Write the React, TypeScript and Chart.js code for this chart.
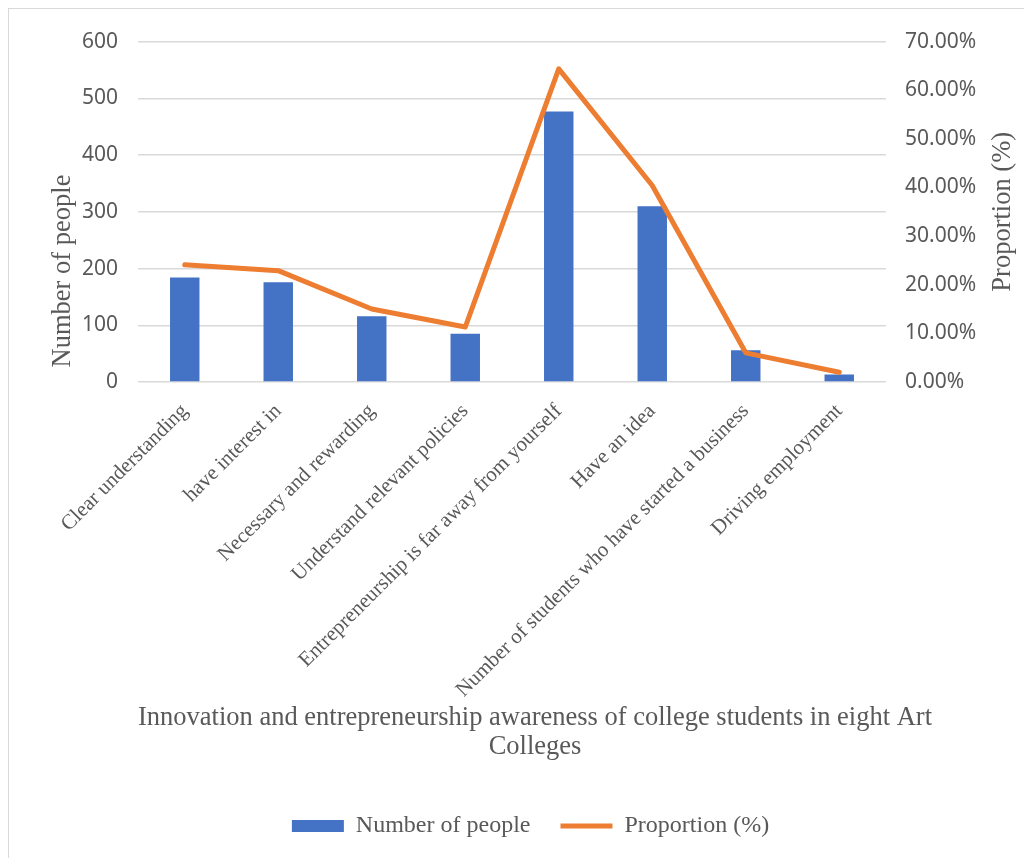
import React, { useEffect, useRef } from "react";
import { Chart, registerables } from "chart.js";

Chart.register(...registerables);

const categories = [
  "Clear understanding",
  "have interest in",
  "Necessary and rewarding",
  "Understand relevant policies",
  "Entrepreneurship is far away from yourself",
  "Have an idea",
  "Number of students who have started a business",
  "Driving employment",
];
const peopleCounts = [184, 176, 116, 85, 477, 310, 56, 13];
const proportions = [0.241, 0.229, 0.15, 0.113, 0.644, 0.404, 0.06, 0.02];

const leftTitle = "Number of people";
const rightTitle = "Proportion (%)";
const bottomTitle = [
  "Innovation and entrepreneurship awareness of college students in eight Art",
  "Colleges",
];

const GRAY = "#595959";
const GRID = "#d9d9d9";
const SERIF = "'Liberation Serif', 'Times New Roman', serif";
const SANS = "'Noto Sans', sans-serif";

const titlesPlugin = {
  id: "customTitles",
  afterDraw(chart: any) {
    const { ctx, chartArea } = chart;
    ctx.save();
    ctx.fillStyle = GRAY;
    ctx.textAlign = "center";
    ctx.textBaseline = "middle";
    ctx.font = `26.5px ${SERIF}`;
    ctx.save();
    ctx.translate(chartArea.left - 75, chartArea.bottom - 111);
    ctx.rotate(-Math.PI / 2);
    ctx.fillText(leftTitle, 0, 0);
    ctx.restore();
    ctx.save();
    ctx.translate(chartArea.right + 117, (chartArea.top + chartArea.bottom) / 2);
    ctx.rotate(-Math.PI / 2);
    ctx.fillText(rightTitle, 0, 0);
    ctx.restore();
    ctx.font = `26.5px ${SERIF}`;
    const cx = (chartArea.left + chartArea.right) / 2 + 23;
    bottomTitle.forEach((line, i) => {
      ctx.fillText(line, cx, chartArea.bottom + 336 + i * 29);
    });
    ctx.restore();
  },
};

export default function App() {
  const canvasRef = useRef<HTMLCanvasElement | null>(null);

  useEffect(() => {
    if (!canvasRef.current) return;
    const chart = new Chart(canvasRef.current, {
      type: "bar",
      data: {
        labels: categories,
        datasets: [
          {
            type: "bar",
            label: "Number of people",
            data: peopleCounts,
            backgroundColor: "#4472C4",
            borderWidth: 0,
            yAxisID: "y",
            order: 1,
            barPercentage: 0.315,
            categoryPercentage: 1,
            pointStyle: "rect",
          } as any,
          {
            type: "line",
            label: "Proportion (%)",
            data: proportions,
            borderColor: "#ED7D31",
            backgroundColor: "#ED7D31",
            borderWidth: 5,
            borderCapStyle: "round",
            borderJoinStyle: "round",
            pointRadius: 0,
            pointHoverRadius: 0,
            tension: 0,
            yAxisID: "y1",
            order: 0,
            pointStyle: "line",
          } as any,
        ],
      },
      options: {
        animation: false,
        responsive: true,
        maintainAspectRatio: false,
        layout: { padding: { top: 29, left: 20, right: 0, bottom: 21 } },
        plugins: {
          tooltip: { enabled: false },
          legend: {
            position: "bottom",
            labels: {
              usePointStyle: true,
              pointStyleWidth: 52,
              boxHeight: 12,
              padding: 30,
              color: GRAY,
              font: { family: SERIF, size: 24 },
              sort: (a: any, b: any) => a.datasetIndex - b.datasetIndex,
            },
          },
        },
        scales: {
          x: {
            grid: { display: false },
            border: { display: false },
            ticks: {
              autoSkip: false,
              maxRotation: 45,
              minRotation: 45,
              padding: 9,
              color: GRAY,
              font: { family: SERIF, size: 21 },
            },
            afterFit: (scale: any) => {
              scale.height = 402;
            },
          },
          y: {
            position: "left",
            min: 0,
            max: 600,
            grid: { color: GRID, lineWidth: 1.5, drawTicks: false },
            border: { display: false },
            ticks: {
              stepSize: 100,
              padding: 20,
              color: GRAY,
              font: { family: SANS, size: 21 },
            },
            afterFit: (scale: any) => {
              scale.width = 109;
            },
          },
          y1: {
            position: "right",
            min: 0,
            max: 0.7,
            grid: { display: false, drawTicks: false },
            border: { display: false },
            ticks: {
              stepSize: 0.1,
              padding: 19,
              color: GRAY,
              font: { family: SANS, size: 21 },
              callback: (v: any) => (Number(v) * 100).toFixed(2) + "%",
            },
            afterFit: (scale: any) => {
              scale.width = 146;
            },
          },
        },
      },
      plugins: [titlesPlugin],
    });
    return () => chart.destroy();
  }, []);

  return (
    <div style={{ width: 1024, height: 850, overflow: "hidden", position: "relative" }}>
      <div
        style={{
          width: 1040,
          height: 880,
          border: `1px solid ${GRID}`,
          boxSizing: "border-box",
          background: "#ffffff",
        }}
      >
        <div style={{ width: 1023, height: 860, position: "relative" }}>
          <canvas ref={canvasRef} />
        </div>
      </div>
    </div>
  );
}
